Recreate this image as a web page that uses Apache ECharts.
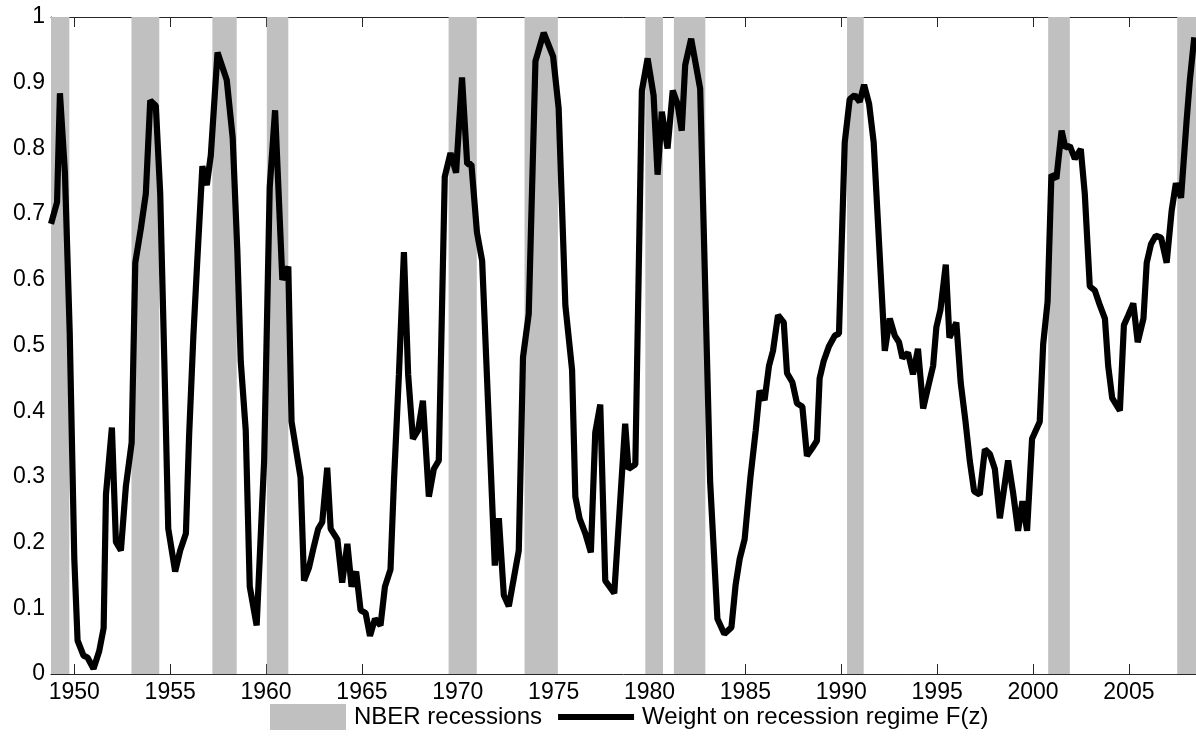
<!DOCTYPE html>
<html>
<head>
<meta charset="utf-8">
<script src="https://cdn.jsdelivr.net/npm/echarts@6/dist/echarts.min.js"></script>
<style>
html,body{margin:0;padding:0;background:#fff;}
#chart{width:1196px;height:738px;}
</style>
</head>
<body>
<div id="chart"></div>
<script>
// Recession regime weight F(z)
var lineYears = [
1948.785,1949.10,1949.25,1949.51,1949.76,1950.00,1950.17,1950.48,1950.69,1951.00,
1951.30,1951.53,1951.65,1951.96,1952.17,1952.43,1952.69,1952.99,1953.18,1953.47,
1953.73,1953.96,1954.25,1954.48,1954.69,1954.90,1955.26,1955.52,1955.82,1955.99,
1956.21,1956.42,1956.68,1956.91,1957.12,1957.47,1957.95,1958.26,1958.50,1958.68,
1958.94,1959.15,1959.51,1959.90,1960.19,1960.47,1960.85,1961.16,1961.33,1961.80,
1961.98,1962.24,1962.50,1962.72,1962.93,1963.19,1963.37,1963.72,1963.97,1964.24,
1964.46,1964.70,1964.93,1965.19,1965.42,1965.68,1965.97,1966.20,1966.49,1966.67,
1966.93,1967.19,1967.41,1967.66,1967.93,1968.18,1968.49,1968.75,1969.01,1969.32,
1969.62,1969.91,1970.22,1970.49,1970.71,1971.00,1971.27,1971.93,1972.14,1972.40,
1972.66,1973.18,1973.40,1973.70,1974.05,1974.48,1974.97,1975.26,1975.61,1975.96,
1976.13,1976.35,1976.65,1976.94,1977.17,1977.43,1977.69,1978.16,1978.73,1978.90,
1979.26,1979.60,1979.90,1980.21,1980.42,1980.64,1980.94,1981.21,1981.46,1981.68,
1981.86,1982.17,1982.64,1983.16,1983.54,1983.90,1984.27,1984.49,1984.70,1984.96,
1985.26,1985.54,1985.74,1986.00,1986.23,1986.44,1986.70,1987.00,1987.17,1987.45,
1987.69,1987.97,1988.21,1988.49,1988.73,1988.87,1989.08,1989.36,1989.66,1989.88,
1990.18,1990.44,1990.70,1990.96,1991.19,1991.45,1991.69,1992.27,1992.53,1992.79,
1993.01,1993.19,1993.48,1993.74,1994.00,1994.27,1994.53,1994.79,1994.96,1995.17,
1995.45,1995.64,1996.00,1996.23,1996.48,1996.70,1996.93,1997.22,1997.49,1997.75,
1998.01,1998.27,1998.70,1998.96,1999.22,1999.45,1999.69,1999.95,2000.35,2000.53,
2000.76,2000.96,2001.22,2001.49,2001.69,2001.92,2002.18,2002.49,2002.70,2002.96,
2003.22,2003.49,2003.75,2003.92,2004.13,2004.53,2004.74,2004.97,2005.23,2005.46,
2005.76,2005.93,2006.15,2006.40,2006.68,2006.97,2007.23,2007.45,2007.72,2008.01,
2008.18,2008.41
];
var lineValues = [
0.685,0.718,0.884,0.763,0.52,0.175,0.051,0.028,0.025,0.008,
0.035,0.07,0.273,0.375,0.201,0.188,0.286,0.352,0.626,0.678,
0.731,0.873,0.865,0.731,0.482,0.221,0.156,0.188,0.214,0.365,
0.515,0.633,0.773,0.744,0.79,0.946,0.904,0.816,0.646,0.476,
0.371,0.133,0.074,0.325,0.74,0.858,0.60,0.62,0.384,0.299,
0.142,0.162,0.195,0.221,0.231,0.314,0.221,0.205,0.139,0.198,
0.133,0.156,0.097,0.093,0.058,0.084,0.074,0.133,0.159,0.293,
0.456,0.642,0.456,0.358,0.371,0.416,0.27,0.312,0.325,0.757,
0.793,0.763,0.908,0.776,0.776,0.672,0.629,0.165,0.237,0.12,
0.103,0.188,0.482,0.548,0.933,0.976,0.94,0.861,0.561,0.463,
0.27,0.237,0.214,0.185,0.368,0.41,0.142,0.123,0.381,0.312,
0.319,0.888,0.937,0.881,0.76,0.856,0.80,0.888,0.868,0.827,
0.927,0.967,0.891,0.293,0.084,0.061,0.071,0.136,0.175,0.205,
0.299,0.371,0.431,0.417,0.469,0.492,0.546,0.535,0.458,0.444,
0.412,0.407,0.332,0.344,0.355,0.45,0.476,0.499,0.515,0.518,
0.809,0.875,0.881,0.871,0.897,0.868,0.809,0.492,0.541,0.515,
0.505,0.481,0.489,0.456,0.495,0.404,0.437,0.469,0.528,0.554,
0.623,0.512,0.535,0.443,0.384,0.325,0.278,0.273,0.342,0.335,
0.312,0.237,0.325,0.276,0.218,0.263,0.218,0.358,0.384,0.502,
0.567,0.76,0.754,0.827,0.801,0.804,0.784,0.799,0.731,0.59,
0.584,0.561,0.541,0.469,0.42,0.401,0.531,0.546,0.564,0.505,
0.541,0.626,0.654,0.667,0.664,0.626,0.705,0.747,0.725,0.842,
0.904,0.969
];
// NBER recession shading as drawn in the picture
var recStart = [1948.78,1952.98,1957.20,1960.04,1969.52,1973.48,1979.78,1981.27,1990.30,2000.79,2007.52];
var recEnd   = [1949.74,1954.43,1958.47,1961.16,1970.99,1975.22,1980.70,1982.91,1991.17,2001.92,2008.50];
var xTicks = [1950,1955,1960,1965,1970,1975,1980,1985,1990,1995,2000,2005];
var xMin = 1948.784, xMax = 2008.5;
var seriesNames = ['NBER recessions','Weight on recession regime F(z)'];

var lineData = lineYears.map(function(y,i){ return [y, lineValues[i]]; });
var areas = recStart.map(function(s,i){ return [{xAxis:s},{xAxis:recEnd[i]}]; });

var chart = echarts.init(document.getElementById('chart'), null, {renderer:'canvas'});
var axisColor = '#262626';
var font = 'Liberation Sans, Arial, Helvetica, sans-serif';
chart.setOption({
  animation:false,
  backgroundColor:'#ffffff',
  grid:{left:51, right:0, top:17, bottom:64, containLabel:false},
  legend:{
    left:265, top:699,
    itemWidth:76, itemHeight:26, itemGap:16,
    symbolKeepAspect:true,
    textStyle:{fontSize:24, color:'#000', fontFamily:font, padding:[0,0,0,3]},
    data:[{name:seriesNames[0], icon:'rect', itemStyle:{color:'#c0c0c0'}},
          {name:seriesNames[1], icon:'path://M0,0L76,0L76,6L0,6Z', itemStyle:{color:'#000'}}]
  },
  xAxis:[{
    type:'value', min:xMin, max:xMax, position:'bottom',
    splitLine:{show:false},
    axisLine:{show:true, onZero:false, lineStyle:{color:axisColor, width:1}},
    axisTick:{show:true, inside:true, length:10, customValues:xTicks, lineStyle:{color:axisColor}},
    axisLabel:{show:true, customValues:xTicks, fontSize:23, color:'#000', fontFamily:font, margin:7,
      formatter:function(v){ return String(Math.round(v)); }}
  },{
    type:'value', min:xMin, max:xMax, position:'top',
    splitLine:{show:false},
    axisLine:{show:true, onZero:false, lineStyle:{color:axisColor, width:1}},
    axisTick:{show:true, inside:true, length:10, customValues:xTicks, lineStyle:{color:axisColor}},
    axisLabel:{show:false}
  }],
  yAxis:{
    type:'value', min:0, max:1, interval:0.1,
    splitLine:{show:false},
    axisLine:{show:true, lineStyle:{color:axisColor, width:1}},
    axisTick:{show:false},
    axisLabel:{fontSize:23, color:'#000', fontFamily:font, margin:6,
      formatter:function(v){ if(Math.abs(v)<1e-9) return '0'; if(Math.abs(v-1)<1e-9) return '1'; return v.toFixed(1); }}
  },
  series:[{
    name:seriesNames[0], type:'line', data:[], z:1,
    itemStyle:{color:'#c0c0c0'},
    markArea:{silent:true, itemStyle:{color:'#c0c0c0', opacity:1}, data:areas}
  },{
    name:seriesNames[1], type:'line', data:lineData, z:3,
    showSymbol:false, symbol:'none',
    lineStyle:{color:'#000', width:6.2},
    itemStyle:{color:'#000'}
  }]
});
</script>
</body>
</html>
